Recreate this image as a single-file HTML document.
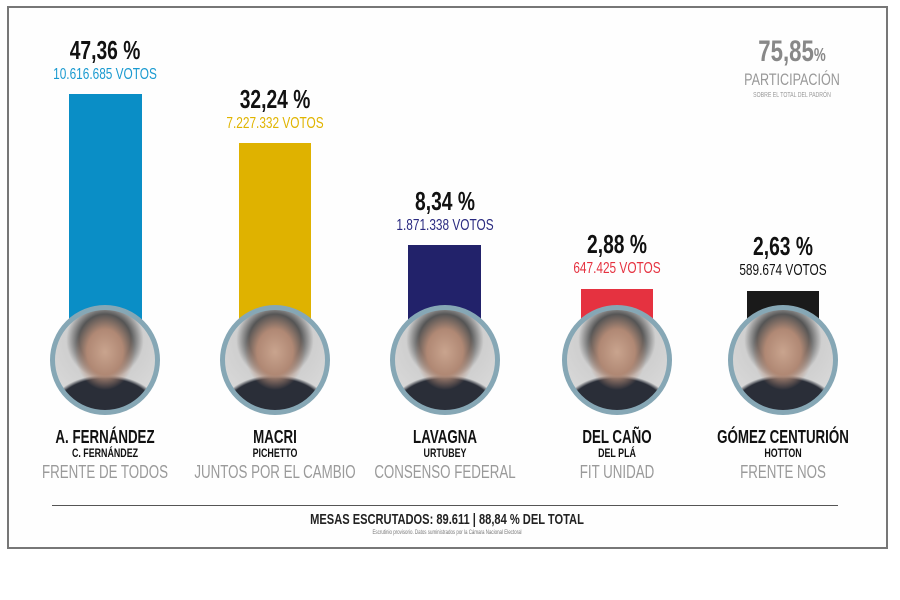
<!DOCTYPE html>
<html><head><meta charset="utf-8"><style>
body{margin:0;width:900px;height:600px;background:#fff;position:relative;overflow:hidden;font-family:"Liberation Sans",sans-serif}
.frame{position:absolute;left:7px;top:6px;width:881px;height:543px;border:2px solid #777;box-sizing:border-box;background:#fefefe}
.t{position:absolute;text-align:center;white-space:nowrap;transform:translateX(-50%) scaleX(0.74);transform-origin:50% 50%}
.bar{position:absolute}
.c{position:absolute;width:110px;height:110px;border-radius:50%;border:5px solid #86a7b5;box-sizing:border-box;background:radial-gradient(ellipse 30% 38% at 50% 42%,#c9a48e 0,#b08874 60%,transparent 100%),radial-gradient(ellipse 55% 35% at 50% 100%,#2a2e38 0,#2a2e38 90%,transparent 100%),radial-gradient(circle at 50% 30%,#555 0,#555 30%,#cfcfcf 45%,#e0e0e0 100%);transform:translate(-50%,-50%)}
.p{font-weight:bold;font-size:26px;color:#111}
.v{font-size:16px}
.n{font-weight:bold;font-size:18px;color:#111}
.s{font-weight:bold;font-size:12px;color:#111}
.g{font-size:18px;color:#9a9a9a}
</style></head><body>
<div class="frame"></div>
<div class="bar" style="left:69px;top:94px;width:73px;height:250px;background:#0a8ec6"></div>
<div class="bar" style="left:239px;top:143px;width:72px;height:200px;background:#dfb200"></div>
<div class="bar" style="left:408px;top:245px;width:73px;height:100px;background:#22226a"></div>
<div class="bar" style="left:581px;top:289px;width:72px;height:60px;background:#e53240"></div>
<div class="bar" style="left:747px;top:291px;width:72px;height:60px;background:#1a1a1a"></div>
<div class="c" style="left:105px;top:360px"></div>
<div class="c" style="left:275px;top:360px"></div>
<div class="c" style="left:445px;top:360px"></div>
<div class="c" style="left:617px;top:360px"></div>
<div class="c" style="left:783px;top:360px"></div>

<div class="t p" style="left:105px;top:35px">47,36 %</div>
<div class="t v" style="left:105px;top:66px;color:#1a9ad0">10.616.685 VOTOS</div>
<div class="t p" style="left:275px;top:84px">32,24 %</div>
<div class="t v" style="left:275px;top:115px;color:#e0b400">7.227.332 VOTOS</div>
<div class="t p" style="left:445px;top:186px">8,34 %</div>
<div class="t v" style="left:445px;top:217px;color:#2a2a80">1.871.338 VOTOS</div>
<div class="t p" style="left:617px;top:229px">2,88 %</div>
<div class="t v" style="left:617px;top:260px;color:#e53240">647.425 VOTOS</div>
<div class="t p" style="left:783px;top:231px">2,63 %</div>
<div class="t v" style="left:783px;top:262px;color:#111">589.674 VOTOS</div>

<div class="t n" style="left:105px;top:427px">A. FERNÁNDEZ</div><div class="t s" style="left:105px;top:446px">C. FERNÁNDEZ</div><div class="t g" style="left:105px;top:462px">FRENTE DE TODOS</div>
<div class="t n" style="left:275px;top:427px">MACRI</div><div class="t s" style="left:275px;top:446px">PICHETTO</div><div class="t g" style="left:275px;top:462px">JUNTOS POR EL CAMBIO</div>
<div class="t n" style="left:445px;top:427px">LAVAGNA</div><div class="t s" style="left:445px;top:446px">URTUBEY</div><div class="t g" style="left:445px;top:462px">CONSENSO FEDERAL</div>
<div class="t n" style="left:617px;top:427px">DEL CAÑO</div><div class="t s" style="left:617px;top:446px">DEL PLÁ</div><div class="t g" style="left:617px;top:462px">FIT UNIDAD</div>
<div class="t n" style="left:783px;top:427px">GÓMEZ CENTURIÓN</div><div class="t s" style="left:783px;top:446px">HOTTON</div><div class="t g" style="left:783px;top:462px">FRENTE NOS</div>

<div class="t" style="left:792px;top:35px;font-size:30px;font-weight:bold;color:#888">75,85<span style="font-size:18px">%</span></div>
<div class="t" style="left:792px;top:70px;font-size:17px;color:#999">PARTICIPACIÓN</div>
<div class="t" style="left:792px;top:92px;font-size:7px;color:#999">SOBRE EL TOTAL DEL PADRÓN</div>

<div style="position:absolute;left:52px;top:505px;width:786px;height:1px;background:#555"></div>
<div class="t" style="left:447px;top:511px;font-size:15px;font-weight:bold;color:#222">MESAS ESCRUTADOS: 89.611 | 88,84 % DEL TOTAL</div>
<div class="t" style="left:447px;top:530px;font-size:6px;color:#777">Escrutinio provisorio. Datos suministrados por la Cámara Nacional Electoral</div>
</body></html>
